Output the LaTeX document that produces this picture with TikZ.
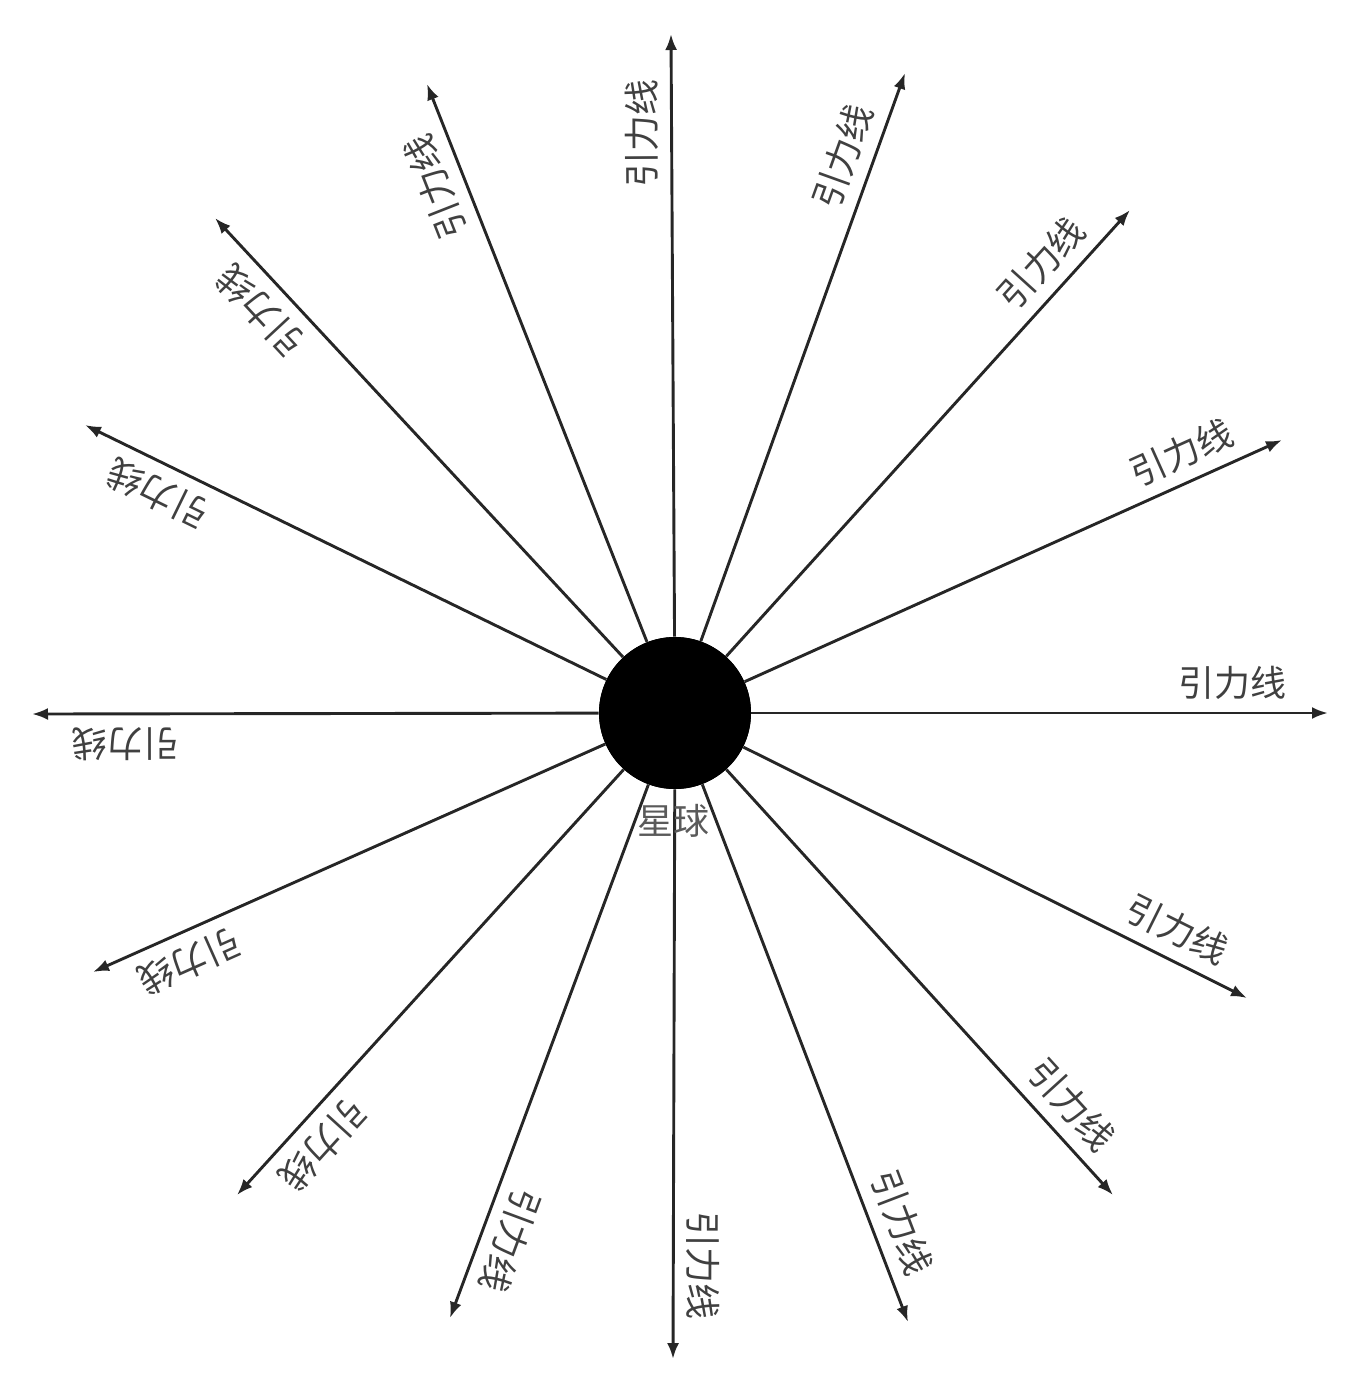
\documentclass[tikz,border=0pt]{standalone}
\usepackage{fontspec}
\newfontfamily\cjk{Noto Sans CJK SC}
\usetikzlibrary{arrows.meta}
\definecolor{linegray}{HTML}{262626}
\definecolor{textgray}{HTML}{404040}
\definecolor{startext}{HTML}{5A5A5A}
\begin{document}
\begin{tikzpicture}[x=0.5pt,y=-0.5pt,
  ray/.style={draw=linegray, line width=1.45pt, -{Latex[length=8pt,width=6pt]}},
  lab/.style={sloped, allow upside down, above=6pt, inner sep=0pt,
    font=\cjk\fontsize{18}{18}\selectfont, text=textgray, pos=0.835},
  star/.style={circle, fill=black, inner sep=0pt, minimum size=76pt}
  ]
\useasboundingbox (0,0) rectangle (1364,1389);
\node[star] (s) at (675,713) {};
\foreach \i/\x/\y in {1/1328/713, 2/1282/440, 3/1130/210, 4/905/73,
  5/671/34, 6/427/84, 7/215/218, 8/85/425, 9/32/714, 10/93/972,
  11/237/1195, 12/450/1318, 13/673/1359, 14/908/1322, 15/1113/1195, 16/1247/998}{
  \coordinate (t\i) at (\x,\y);
  \draw[ray] (s) -- (t\i) node[lab] (l\i) {引力线};
}
\node[star] (s2) at (s) {};
\node[font=\cjk\fontsize{18}{18}\selectfont, text=startext, inner sep=0pt] (sl) at (673,821) {星球};
\end{tikzpicture}
\end{document}
